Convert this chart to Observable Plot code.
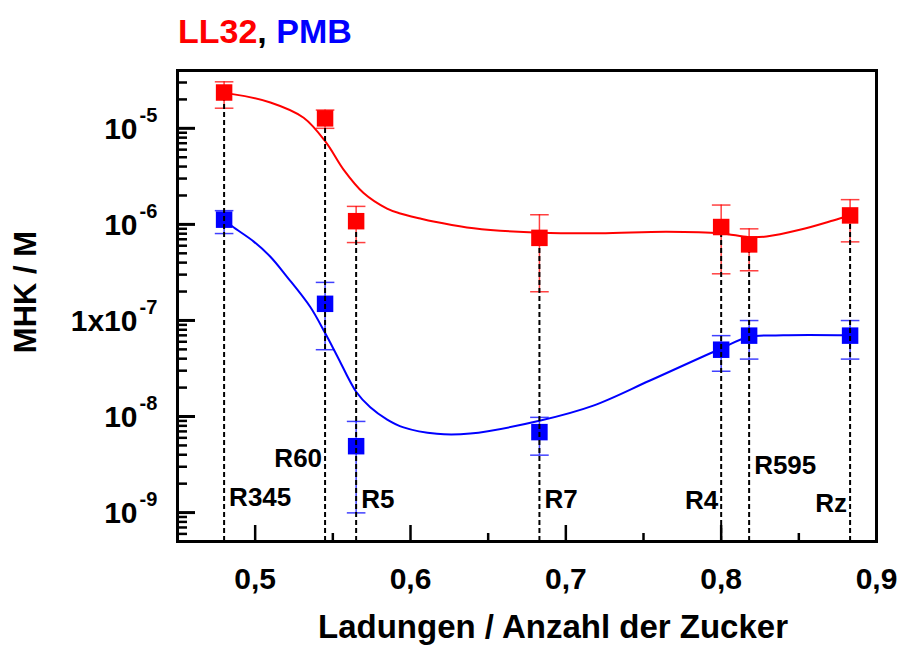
<!DOCTYPE html>
<html><head><meta charset="utf-8">
<script src="https://cdn.jsdelivr.net/npm/d3@7"></script>
<script src="https://cdn.jsdelivr.net/npm/@observablehq/plot@0.6"></script>
<style>
body{margin:0;background:#fff;font-family:"Liberation Sans",Arial,sans-serif;}
#title{height:56px;box-sizing:border-box;padding-top:14px;padding-left:178px;font-weight:bold;font-size:34px;line-height:34px;color:#000;}
#chart svg{overflow:visible;}
</style></head><body>
<div id="title"><span style="color:#ff0000">LL32</span>, <span style="color:#0000ff">PMB</span></div>
<div id="chart"></div>
<script>
// ---- data ----
const compounds   = ["R345", "R60", "R5", "R7", "R4", "R595", "Rz"];
const chargeRatio = [0.48, 0.545, 0.565, 0.683, 0.80, 0.818, 0.883];

const ll32    = [2.36e-5, 1.27e-5, 1.08e-6, 7.24e-7, 9.39e-7, 6.19e-7, 1.24e-6];
const ll32Hi  = [3.05e-5, 1.55e-5, 1.54e-6, 1.26e-6, 1.59e-6, 8.99e-7, 1.81e-6];
const ll32Lo  = [1.62e-5, 1.00e-5, 6.47e-7, 1.99e-7, 3.06e-7, 3.29e-7, 6.58e-7];

const pmb     = [1.12e-6, 1.49e-7, 4.91e-9, 6.88e-9, 4.96e-8, 6.95e-8, 6.95e-8];
const pmbHi   = [1.39e-6, 2.49e-7, 8.89e-9, 9.80e-9, 6.95e-8, 9.98e-8, 9.98e-8];
const pmbLo   = [8.03e-7, 4.96e-8, 9.93e-10, 3.96e-9, 2.96e-8, 3.96e-8, 3.96e-8];

// fitted curves
const ll32FitX = [0.480, 0.4854, 0.5098, 0.5312, 0.5456, 0.5569, 0.5698, 0.5849, 0.5934, 0.6063, 0.6148, 0.6363, 0.6577, 0.6834, 0.7220, 0.7649, 0.7996, 0.8178, 0.8292, 0.8506, 0.8721, 0.8826];
const ll32FitY = [2.30e-5, 2.27e-5, 1.86e-5, 1.29e-5, 7.14e-6, 3.72e-6, 2.12e-6, 1.46e-6, 1.30e-6, 1.15e-6, 1.07e-6, 9.3e-7, 8.6e-7, 8.2e-7, 8.1e-7, 8.4e-7, 8.1e-7, 7.36e-7, 7.47e-7, 8.78e-7, 1.10e-6, 1.24e-6];
const pmbFitX  = [0.480, 0.4854, 0.4991, 0.5098, 0.5205, 0.5355, 0.5452, 0.5527, 0.5651, 0.5741, 0.5850, 0.5955, 0.6170, 0.6384, 0.6830, 0.7177, 0.7542, 0.7996, 0.8178, 0.8399, 0.8826];
const pmbFitY  = [1.12e-6, 9.5e-7, 6.62e-7, 4.61e-7, 2.85e-7, 1.38e-7, 7.3e-8, 4.3e-8, 1.8e-8, 1.25e-8, 9.3e-9, 7.7e-9, 6.6e-9, 6.65e-9, 9.04e-9, 1.30e-8, 2.37e-8, 5.08e-8, 6.72e-8, 7.0e-8, 7.0e-8];

// compound label vertical anchor (data units)
const labelY      = [1.42e-9, 3.62e-9, 1.35e-9, 1.35e-9, 1.32e-9, 3.06e-9, 1.24e-9];
const labelSide   = ["right", "left", "right", "right", "left", "right", "left"];

// axes
const xDomain     = [0.45, 0.9];
const xMajor      = [0.5, 0.6, 0.7, 0.8, 0.9];
const xTickLabels = ["0,5", "0,6", "0,7", "0,8", "0,9"];
const xMinor      = [0.55, 0.65, 0.75, 0.85];
const yDomain     = [5e-10, 4e-5];
const yMajor      = [1e-9, 1e-8, 1e-7, 1e-6, 1e-5];
const yBase       = ["10", "10", "1x10", "10", "10"];
const yExp        = ["-9", "-8", "-7", "-6", "-5"];
const yDecades    = [1e-10, 1e-9, 1e-8, 1e-7, 1e-6, 1e-5];
const yMinorSteps = [2, 3, 4, 5, 6, 7, 8, 9];

const RED = "#ff0000", BLUE = "#0000ff";

// ---- tables ----
const pts = chargeRatio.map((x, i) => ({
  x, name: compounds[i], ly: labelY[i], side: labelSide[i],
  red: ll32[i], redHi: ll32Hi[i], redLo: ll32Lo[i],
  blue: pmb[i], blueHi: pmbHi[i], blueLo: pmbLo[i]
}));
const redFit  = ll32FitX.map((x, i) => ({x, y: ll32FitY[i]}));
const blueFit = pmbFitX.map((x, i) => ({x, y: pmbFitY[i]}));
const yMinor = yDecades.flatMap(d => yMinorSteps.map(m => m * d))
  .filter(v => v >= yDomain[0] * 0.999 && v <= yDomain[1] * 1.001);

const W = 900, H = 590;
const mL = 177, mR = 24, mT = 14, mB = 105;
const innerW = W - mL - mR, innerH = H - mT - mB;

const cap = {draw(context, size) { const r = Math.sqrt(size / Math.PI); context.moveTo(-r, 0); context.lineTo(r, 0); }};

function errorBars(key, color) {
  return [
    Plot.ruleX(pts, {x: "x", y1: key + "Lo", y2: key + "Hi", stroke: color, strokeWidth: 1.5, strokeOpacity: 0.75}),
    Plot.dot(pts, {x: "x", y: key + "Hi", symbol: cap, r: 9.3, stroke: color, fill: "none", strokeWidth: 1.5, strokeOpacity: 0.75}),
    Plot.dot(pts, {x: "x", y: key + "Lo", symbol: cap, r: 9.3, stroke: color, fill: "none", strokeWidth: 1.5, strokeOpacity: 0.75})
  ];
}

const labelFont = {fontSize: 26, fontWeight: "bold", fill: "black", lineAnchor: "middle"};

const chart = Plot.plot({
  width: W, height: H,
  marginLeft: mL, marginRight: mR, marginTop: mT, marginBottom: mB,
  style: {fontFamily: "'Liberation Sans', Arial, sans-serif", color: "black", background: "white"},
  x: {domain: xDomain},
  y: {type: "log", domain: yDomain, axis: null},
  marks: [
    // fitted curves
    Plot.line(redFit, {x: "x", y: "y", stroke: RED, strokeWidth: 2, curve: "catmull-rom"}),
    Plot.line(blueFit, {x: "x", y: "y", stroke: BLUE, strokeWidth: 2, curve: "catmull-rom"}),
    // error bars
    ...errorBars("blue", BLUE),
    ...errorBars("red", RED),
    // blue points
    Plot.dot(pts, {x: "x", y: "blue", symbol: "square", r: 9.3, fill: BLUE, stroke: "none"}),
    // dashed drop lines
    Plot.ruleX(pts, {x: "x", y1: yDomain[0], y2: "red", stroke: "black", strokeWidth: 2, strokeDasharray: "5,3"}),
    // red points
    Plot.dot(pts, {x: "x", y: "red", symbol: "square", r: 9.3, fill: RED, stroke: "none"}),
    // compound labels
    Plot.text(pts.filter(d => d.side === "right"), {x: "x", y: "ly", text: "name", textAnchor: "start", dx: 5, ...labelFont}),
    Plot.text(pts.filter(d => d.side === "left"), {x: "x", y: "ly", text: "name", textAnchor: "end", dx: -3, ...labelFont}),
    // inward ticks
    Plot.ruleX(xMajor, {x: d => d, insetTop: innerH - 16, stroke: "black", strokeWidth: 2.5}),
    Plot.ruleX(xMinor, {x: d => d, insetTop: innerH - 8, stroke: "black", strokeWidth: 2.5}),
    Plot.ruleY(yMajor, {y: d => d, insetRight: innerW - 18, stroke: "black", strokeWidth: 3}),
    Plot.ruleY(yMinor, {y: d => d, insetRight: innerW - 10, stroke: "black", strokeWidth: 2.5}),
    Plot.frame({stroke: "black", strokeWidth: 3}),
    // x tick labels
    Plot.axisX({ticks: xMajor, tickSize: 0, tickPadding: 26, tickFormat: d => xTickLabels[xMajor.indexOf(d)], fontSize: 30, fontWeight: "bold", label: null}),
    // y tick labels (base + exponent)
    Plot.text(yMajor, {y: d => d, text: (d, i) => yBase[i], frameAnchor: "left", textAnchor: "end", dx: -40, dy: 1, fontSize: 30, fontWeight: "bold", lineAnchor: "middle"}),
    Plot.text(yMajor, {y: d => d, text: (d, i) => yExp[i], frameAnchor: "left", textAnchor: "start", dx: -38, dy: -13, fontSize: 20, fontWeight: "bold", lineAnchor: "middle"}),
    // axis titles
    Plot.text(["Ladungen / Anzahl der Zucker"], {frameAnchor: "bottom", textAnchor: "middle", dx: 26, dy: 86, fontSize: 33, fontWeight: "bold", lineAnchor: "middle"}),
    Plot.text(["MHK / M"], {frameAnchor: "left", textAnchor: "middle", rotate: -90, dx: -151, dy: -14, fontSize: 31, fontWeight: "bold", lineAnchor: "middle"})
  ]
});
document.getElementById("chart").appendChild(chart);
</script>
</body></html>
